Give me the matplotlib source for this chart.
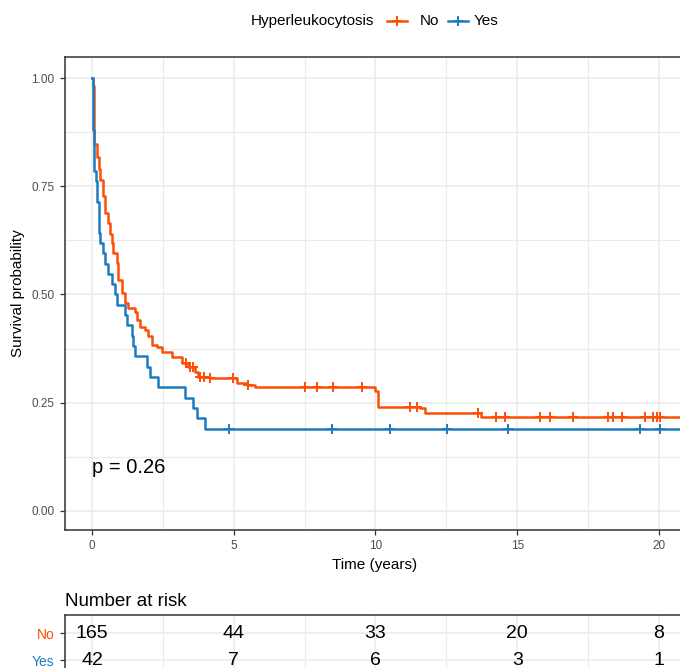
import matplotlib
matplotlib.use("Agg")
import matplotlib.pyplot as plt
from matplotlib.lines import Line2D
from matplotlib.ticker import MultipleLocator

# === Data ===
groups = ["No", "Yes"]
colors = ["#FC4E07", "#1F7BBF"]

no_times = [0.00, 0.02, 0.08, 0.17, 0.24, 0.30, 0.40, 0.46, 0.55, 0.63, 0.70, 0.75,
            0.87, 0.93, 1.05, 1.16, 1.28, 1.52, 1.58, 1.69, 1.87, 1.99, 2.10, 2.28,
            2.46, 2.81, 3.16, 3.40, 3.63, 3.75, 4.16, 5.10, 5.46, 5.75, 9.98, 10.10,
            11.57, 11.75, 13.74, 21.0]
no_surv = [1.000, 0.982, 0.848, 0.818, 0.790, 0.764, 0.727, 0.688, 0.665, 0.640, 0.620, 0.596,
           0.572, 0.533, 0.503, 0.480, 0.469, 0.460, 0.441, 0.426, 0.418, 0.403, 0.383, 0.379,
           0.368, 0.356, 0.341, 0.333, 0.322, 0.310, 0.306, 0.295, 0.291, 0.286, 0.276, 0.241,
           0.237, 0.227, 0.216, 0.216]
no_censor = [3.30, 3.46, 3.55, 3.81, 3.95, 4.16, 4.98, 5.51, 7.51, 7.93, 8.51, 9.51,
             11.22, 11.45, 13.63, 14.27, 14.57, 15.80, 16.16, 16.98, 18.21, 18.39,
             18.68, 19.51, 19.80, 19.92, 20.04]

yes_times = [0.00, 0.02, 0.07, 0.14, 0.17, 0.26, 0.30, 0.38, 0.46, 0.58, 0.69, 0.81,
             0.90, 1.16, 1.25, 1.40, 1.45, 1.52, 1.93, 2.05, 2.34, 3.28, 3.57, 3.70,
             4.00, 21.0]
yes_surv = [1.000, 0.881, 0.786, 0.762, 0.714, 0.643, 0.619, 0.595, 0.571, 0.548, 0.524, 0.500,
            0.476, 0.452, 0.429, 0.405, 0.381, 0.357, 0.333, 0.310, 0.286, 0.262, 0.238, 0.214,
            0.190, 0.190]
yes_censor = [4.84, 8.45, 10.51, 12.51, 14.69, 19.33, 20.04]

risk_times = [0, 5, 10, 15, 20]
no_at_risk = [165, 44, 33, 20, 8]
yes_at_risk = [42, 7, 6, 3, 1]

p_label = "p = 0.26"

# === Helpers ===
def surv_at(times, surv, t):
    s = surv[0]
    for ti, si in zip(times, surv):
        if ti <= t:
            s = si
    return s

plt.rcParams['font.family'] = ['Liberation Sans', 'DejaVu Sans']

W, H = 680, 668
fig = plt.figure(figsize=(W / 100, H / 100), dpi=100)

grid_col = "#EBEBEB"
tick_col = "#4D4D4D"
xlim = (-0.952, 20.92)

# === Survival panel ===
ax = fig.add_axes([65 / W, 1 - 530 / H, 620 / W, 473 / H])
series = [(no_times, no_surv, no_censor), (yes_times, yes_surv, yes_censor)]
for (t, s, c), col in zip(series, colors):
    ax.step(t, s, where="post", color=col, lw=1.8, zorder=3)
    ax.plot(c, [surv_at(t, s, ci) for ci in c], ls="none", marker="+",
            ms=7, mew=1.4, color=col, zorder=4)

ax.set_xlim(*xlim)
ax.set_ylim(-0.0439, 1.0485)
ax.xaxis.set_major_locator(MultipleLocator(5))
ax.xaxis.set_minor_locator(MultipleLocator(2.5))
ax.yaxis.set_minor_locator(MultipleLocator(0.125))
ax.set_yticks([0, 0.25, 0.5, 0.75, 1.0])
ax.set_yticklabels(["0.00", "0.25", "0.50", "0.75", "1.00"])
ax.grid(True, which="major", color=grid_col, lw=1.1, zorder=0)
ax.grid(True, which="minor", color=grid_col, lw=0.8, zorder=0)
ax.tick_params(which="minor", length=0)
ax.tick_params(which="major", length=3.5, width=0.9, color="#333333",
               labelsize=8.5, labelcolor=tick_col, pad=4)
for sp in ax.spines.values():
    sp.set_color("#333333")
    sp.set_linewidth(1.1)
ax.set_xlabel("Time (years)", fontsize=11, labelpad=4)
ax.set_ylabel("Survival probability", fontsize=11, labelpad=5)
ax.text(0, 0.10, p_label, fontsize=14.5, va="center", ha="left")

# === Legend on top ===
y_leg = 1 - 21 / H
fig.text(251 / W, y_leg, "Hyperleukocytosis", fontsize=11, va="center", ha="left")
legend_x = [(387, 420), (448, 474)]
for (lx, tx), col, g in zip(legend_x, colors, groups):
    fig.add_artist(Line2D([lx / W, (lx + 20) / W], [y_leg, y_leg], color=col, lw=1.8,
                          transform=fig.transFigure))
    fig.add_artist(Line2D([(lx + 10) / W], [y_leg], marker="+", ms=7, mew=1.4, color=col,
                          transform=fig.transFigure))
    fig.text(tx / W, y_leg, g, fontsize=11, va="center", ha="left")

# === Number at risk table ===
fig.text(65 / W, 1 - 601 / H, "Number at risk", fontsize=13.5, va="center", ha="left")
tab = fig.add_axes([65 / W, 1 - 673.5 / H, 620 / W, 58.5 / H])
tab.set_xlim(*xlim)
tab.set_ylim(0.5, 2.667)
for row_y, vals in [(2, no_at_risk), (1, yes_at_risk)]:
    for t, v in zip(risk_times, vals):
        tab.text(t, row_y, str(v), fontsize=14, ha="center", va="center")
tab.xaxis.set_major_locator(MultipleLocator(5))
tab.xaxis.set_minor_locator(MultipleLocator(2.5))
tab.set_yticks([1, 2])
tab.set_yticklabels(["Yes", "No"])
for lbl, col in zip(tab.get_yticklabels(), colors[::-1]):
    lbl.set_color(col)
tab.grid(True, which="major", color=grid_col, lw=1.1, zorder=0)
tab.grid(True, which="minor", axis="x", color=grid_col, lw=0.8, zorder=0)
tab.tick_params(axis="x", which="both", length=0, labelbottom=False)
tab.tick_params(axis="y", length=3.5, width=0.9, color="#333333", labelsize=10, pad=4)
for sp in tab.spines.values():
    sp.set_color("#333333")
    sp.set_linewidth(1.1)

fig.savefig("out.png", dpi=100)
